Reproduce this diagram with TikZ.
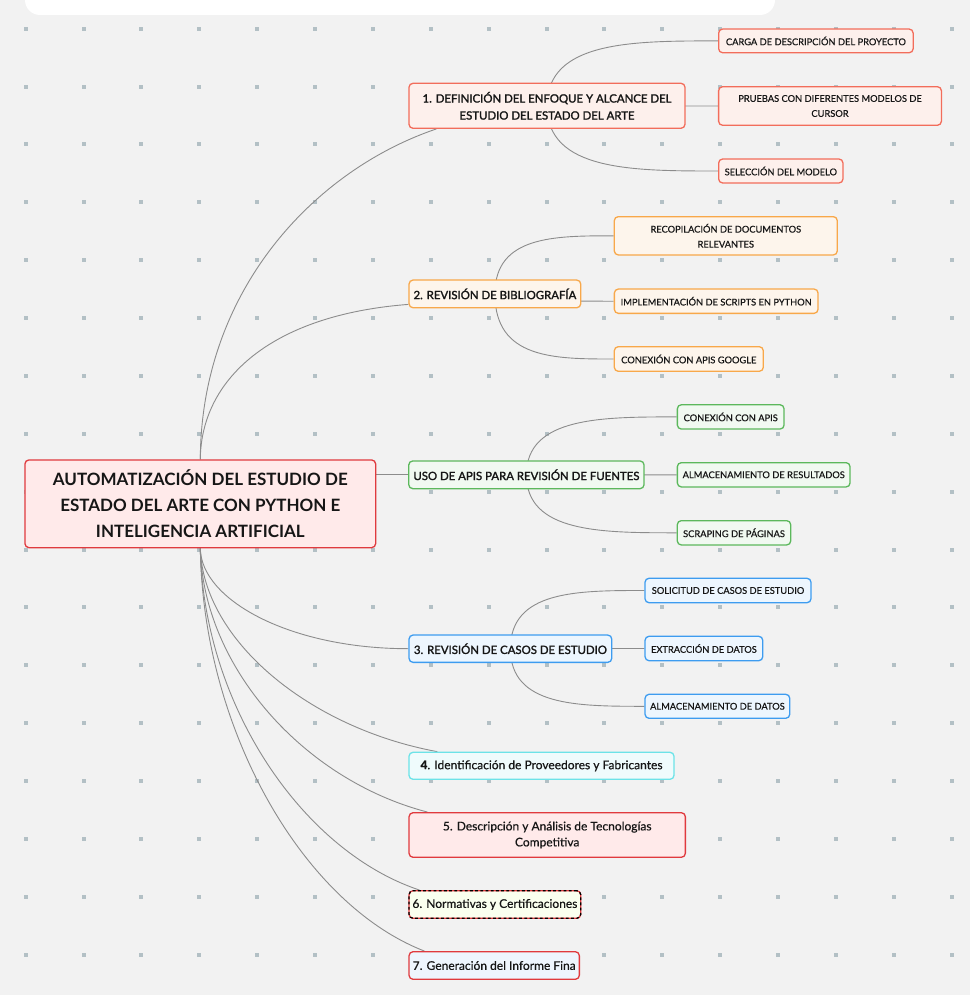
\documentclass[tikz,border=0pt]{standalone}
\usepackage{fontspec}
\setmainfont{Lato}
\newfontfamily\latomed{Lato}[FakeBold=1.8]
\newfontfamily\latoleaf{Lato}[FakeBold=0.5]
\usetikzlibrary{calc,backgrounds}
\definecolor{bgc}{HTML}{F2F2F2}
\definecolor{dotc}{HTML}{B3C0C5}
\definecolor{linec}{HTML}{8C8C8C}
\definecolor{txt}{HTML}{161616}
\definecolor{redB}{HTML}{E03A3E}
\definecolor{redF}{HTML}{FFEAEA}
\definecolor{salB}{HTML}{F26D5B}
\definecolor{salF}{HTML}{FDF0EC}
\definecolor{oraB}{HTML}{F8A84A}
\definecolor{oraF}{HTML}{FDF5EC}
\definecolor{greB}{HTML}{5CB85C}
\definecolor{greF}{HTML}{F1F9F1}
\definecolor{bluB}{HTML}{3D9CF0}
\definecolor{bluF}{HTML}{EDF6FE}
\definecolor{cyaB}{HTML}{6CE3E8}
\definecolor{cyaF}{HTML}{EFFBFC}
\definecolor{yelF}{HTML}{FAFFEF}
\definecolor{lbF}{HTML}{EEF5FD}
\tikzset{
  box/.style={rounded corners=4pt, line width=1.3pt, align=center, inner sep=0pt, text=txt},
  rootbox/.style={box, draw=redB, fill=redF, font=\fontsize{17}{26}\selectfont\bfseries},
  branch/.style={box, font=\latomed\fontsize{11.4}{17}\selectfont},
  leaf/.style={box, font=\latoleaf\fontsize{9.3}{15}\selectfont},
  plain/.style={box, font=\latoleaf\fontsize{12}{16}\selectfont},
  sal/.style={draw=salB, fill=salF},
  ora/.style={draw=oraB, fill=oraF},
  gre/.style={draw=greB, fill=greF},
  blu/.style={draw=bluB, fill=bluF},
  conn/.style={draw=linec, line width=0.9pt},
  wh/.style 2 args={minimum width=#1pt, minimum height=#2pt}
}
\newcommand{\kid}[2]{\draw[conn] (#1.center) .. controls (#1.center |- #2.west) and ($(#1.center |- #2.west)!0.5!(#2.west)$) .. (#2.west);}
\begin{document}
\begin{tikzpicture}[x=1pt,y=-1pt]
\useasboundingbox (0,0) rectangle (970,995);

% root
\node[rootbox, wh={350.7}{87.7}] (root) at (200.3,503.8) {AUTOMATIZACIÓN DEL ESTUDIO DE\\ESTADO DEL ARTE CON PYTHON E\\INTELIGENCIA ARTIFICIAL};

% branch 1
\node[branch, sal, wh={276}{45}] (n1) at (547,105.8) {1. DEFINICIÓN DEL ENFOQUE Y ALCANCE DEL\\ESTUDIO DEL ESTADO DEL ARTE};
\node[leaf, sal, wh={194.5}{23.7}] (c11) at (815.9,40.9) {CARGA DE DESCRIPCIÓN DEL PROYECTO};
\node[leaf, sal, wh={222.8}{38.6}] (c12) at (830,106) {PRUEBAS CON DIFERENTES MODELOS DE\\CURSOR};
\node[leaf, sal, wh={124.3}{24}] (c13) at (780.8,171) {SELECCIÓN DEL MODELO};

% branch 2
\node[branch, ora, wh={171.7}{27.7}] (n2) at (494.9,293.9) {2. REVISIÓN DE BIBLIOGRAFÍA};
\node[leaf, ora, wh={223}{38.3}] (c21) at (725.8,235.8) {RECOPILACIÓN DE DOCUMENTOS\\RELEVANTES};
\node[leaf, ora, wh={203.7}{24.3}] (c22) at (716.2,301.2) {IMPLEMENTACIÓN DE SCRIPTS EN PYTHON};
\node[leaf, ora, wh={149}{24.6}] (c23) at (688.8,359) {CONEXIÓN CON APIS GOOGLE};

% APIs branch
\node[branch, gre, wh={235.3}{27.7}] (uso) at (526.4,474.8) {USO DE APIS PARA REVISIÓN DE FUENTES};
\node[leaf, gre, wh={106.7}{24.3}] (c31) at (730.7,416.9) {CONEXIÓN CON APIS};
\node[leaf, gre, wh={172.7}{24.3}] (c32) at (763.7,474.8) {ALMACENAMIENTO DE RESULTADOS};
\node[leaf, gre, wh={113.4}{24.3}] (c33) at (734,532.8) {SCRAPING DE PÁGINAS};

% branch 3
\node[branch, blu, wh={202.7}{27.3}] (n3) at (510.4,648.7) {3. REVISIÓN DE CASOS DE ESTUDIO};
\node[leaf, blu, wh={166}{24.4}] (c41) at (728,590.5) {SOLICITUD DE CASOS DE ESTUDIO};
\node[leaf, blu, wh={117.7}{24.4}] (c42) at (703.9,648.5) {EXTRACCIÓN DE DATOS};
\node[leaf, blu, wh={144.7}{24}] (c43) at (717.4,706.3) {ALMACENAMIENTO DE DATOS};

% other branches
\node[plain, draw=cyaB, fill=cyaF, wh={265}{27}] (n4) at (541.5,765.8) {{\bfseries 4}. Identificación de Proveedores y Fabricantes};
\node[plain, draw=redB, fill=redF, wh={276.3}{44.6}] (n5) at (547.2,835) {5. Descripción y Análisis de Tecnologías\\Competitiva};
\node[plain, draw=redB, fill=yelF, wh={171.7}{27.6}, postaction={draw=black, line width=1.3pt, dash pattern=on 2.8pt off 2.4pt}] (n6) at (494.9,904.5) {6. Normativas y Certificaciones};
\node[plain, draw=redB, fill=lbF, wh={170.3}{27.6}] (n7) at (494.2,965.5) {7. Generación del Informe Fina};

\begin{pgfonlayer}{background}
  \fill[bgc] (0,0) rectangle (970,995);
  \fill[white, rounded corners=15pt] (25,-20) rectangle (775,15);
  \foreach \i in {0,...,16} {
    \foreach \j in {0,...,16} {
      \fill[dotc] ({25.7+57.87*\i-2},{28.7+57.87*\j-2}) rectangle ++(4,4);
    }
  }
  % root connectors
  \draw[conn] (root.north) .. controls (201,290) and (315,170) .. ([xshift=28pt]n1.south west);
  \draw[conn] (root.north) .. controls (201,380) and (270,315) .. ([yshift=4pt]n2.south west);
  \draw[conn] (uso.west -| root.east) -- (uso.west);
  \draw[conn] (root.south) .. controls (201,600) and (290,648.7) .. (n3.west);
  \draw[conn] (root.south) .. controls (203,640) and (309,728) .. ([xshift=29pt]n4.north west);
  \draw[conn] (root.south) .. controls (203,667) and (304,780) .. ([xshift=19pt]n5.north west);
  \draw[conn] (root.south) .. controls (203,702) and (300,850) .. ([xshift=11pt]n6.north west);
  \draw[conn] (root.south) .. controls (203,730) and (303,904) .. ([xshift=16pt]n7.north west);
  % children
  \kid{n1}{c11}\kid{n1}{c12}\kid{n1}{c13}
  \kid{n2}{c21}\kid{n2}{c22}\kid{n2}{c23}
  \kid{uso}{c31}\kid{uso}{c32}\kid{uso}{c33}
  \kid{n3}{c41}\kid{n3}{c42}\kid{n3}{c43}
\end{pgfonlayer}
\end{tikzpicture}
\end{document}
